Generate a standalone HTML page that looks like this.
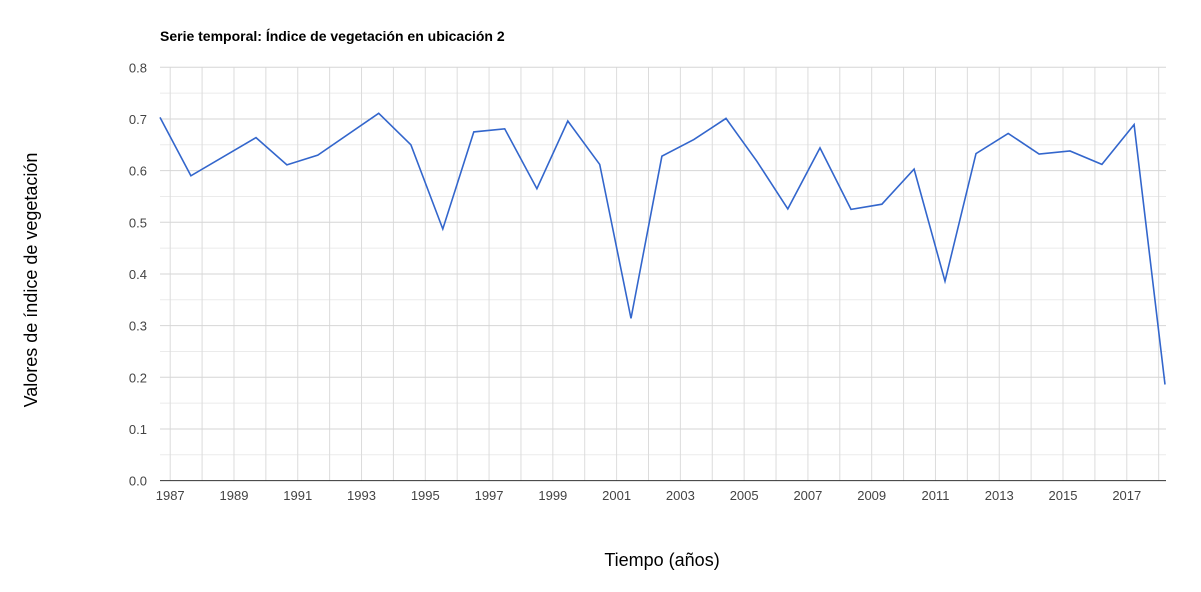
<!DOCTYPE html>
<html><head><meta charset="utf-8"><style>
body{margin:0;background:#fff;}
svg text{font-family:"Liberation Sans",Arial,sans-serif;}
</style></head><body>
<svg width="1201" height="587" viewBox="0 0 1201 587" xmlns="http://www.w3.org/2000/svg">
<rect width="1201" height="587" fill="#fff"/>
<text x="160" y="41" font-size="14" font-weight="bold" fill="#000">Serie temporal: Índice de vegetación en ubicación 2</text>
<g id="grid"></g>
<g id="axes"></g>
<path id="line" fill="none" stroke="#3366cc" stroke-width="1.6"/>
<text x="0" y="0" transform="translate(37,280) rotate(-90)" text-anchor="middle" font-size="18" fill="#000">Valores de índice de vegetación</text>
<text x="662" y="566" text-anchor="middle" font-size="18" fill="#000">Tiempo (años)</text>
</svg>
<script>
const years=[1986.68,1987.65,1989.69,1990.66,1991.63,1993.54,1994.55,1995.55,1996.52,1997.49,1998.50,1999.47,2000.47,2001.45,2002.42,2003.42,2004.43,2005.40,2006.37,2007.38,2008.35,2009.32,2010.33,2011.30,2012.27,2013.28,2014.25,2015.22,2016.22,2017.23,2018.20];
const values=[0.703,0.590,0.664,0.611,0.630,0.711,0.650,0.487,0.675,0.681,0.565,0.696,0.612,0.314,0.628,0.660,0.701,0.618,0.526,0.644,0.525,0.535,0.603,0.386,0.633,0.672,0.632,0.638,0.612,0.689,0.186];
const yTicks=[0,0.1,0.2,0.3,0.4,0.5,0.6,0.7,0.8];
const xTickYears=[1987,1989,1991,1993,1995,1997,1999,2001,2003,2005,2007,2009,2011,2013,2015,2017];
const L=160,R=1166,T=67.3,B=480.6,x0=1986.68,x1=2018.23;
const X=t=>L+(t-x0)/(x1-x0)*(R-L);
const Y=v=>B-v/0.8*(B-T);
const NS="http://www.w3.org/2000/svg";
const grid=document.getElementById('grid'),axes=document.getElementById('axes');
function mk(tag,attrs,parent){const e=document.createElementNS(NS,tag);for(const k in attrs)e.setAttribute(k,attrs[k]);parent.appendChild(e);return e;}
for(let i=0;i<yTicks.length-1;i++){
  const l=mk('line',{x1:L,x2:R,y1:Y(yTicks[i]+0.05),y2:Y(yTicks[i]+0.05),stroke:'#ebebeb','stroke-width':1},grid);
  
  
}
for(let y=1987;y<=2018;y++){
  const l=mk('line',{x1:X(y),x2:X(y),y1:T,y2:B,stroke:'#dcdcdc','stroke-width':1},grid);
  
  
}
yTicks.forEach(v=>{
  if(v>0){const l=mk('line',{x1:L,x2:R,y1:Y(v),y2:Y(v),stroke:'#d6d6d6','stroke-width':1},grid);
  
  }
  const t=mk('text',{x:147,y:Y(v)+5,'text-anchor':'end','font-size':13,fill:'#444'},axes);
  t.textContent=v.toFixed(1);
  
  
});
const ax=mk('line',{x1:L,x2:R,y1:B,y2:B,stroke:'#333','stroke-width':1},axes);


xTickYears.forEach(y=>{
  const t=mk('text',{x:X(y),y:500,'text-anchor':'middle','font-size':13,fill:'#444'},axes);
  t.textContent=y;
  
  
});
document.getElementById('line').setAttribute('d',years.map((t,i)=>(i?'L':'M')+X(t).toFixed(1)+','+Y(values[i]).toFixed(1)).join(''));
</script>
</body></html>
